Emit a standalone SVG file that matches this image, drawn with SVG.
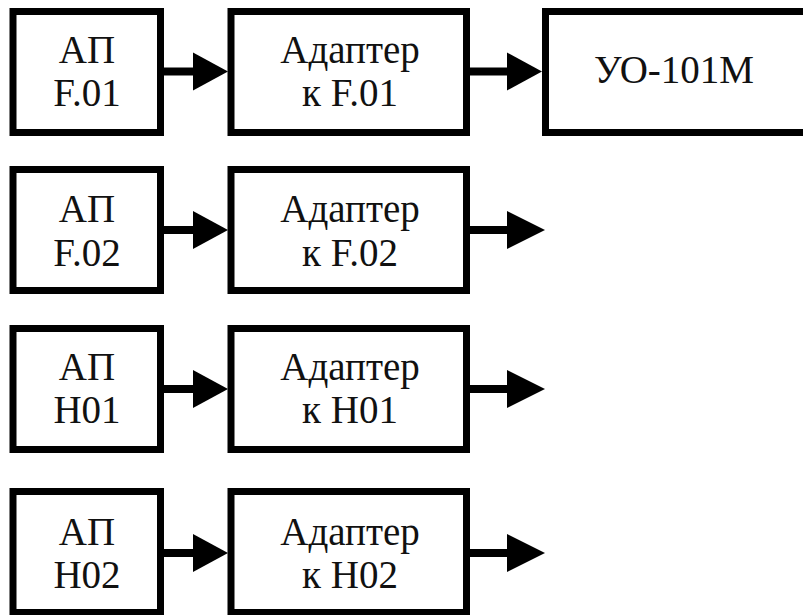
<svg xmlns="http://www.w3.org/2000/svg" width="803" height="615" viewBox="0 0 803 615" font-family="Liberation Serif, DejaVu Serif, serif">
<defs>
<style>
.box{fill:#fff;stroke:#000;stroke-width:7}
.ln{stroke:#000;stroke-width:8;fill:none}
.hd{fill:#000}
</style>
</defs>
<rect width="803" height="615" fill="#fff"/>
<g font-family="Liberation Serif, DejaVu Serif, serif" font-size="39" fill="#111" text-anchor="middle">
<g id="ap-f01"><rect class="box" x="13" y="11.5" width="147.5" height="121"/><text x="87" y="63">АП</text><text x="87" y="106">F.01</text></g>
<g id="adapter-f01"><rect class="box" x="231" y="11.5" width="235.5" height="121"/><text x="350" y="63">Адаптер</text><text x="350" y="106">к F.01</text></g>
<g id="uo-101m"><rect class="box" x="545.5" y="11.5" width="280" height="121"/><text x="674" y="83">УО-101М</text></g>

<g id="ap-f02"><rect class="box" x="13" y="169.5" width="147.5" height="121"/><text x="87" y="221.5">АП</text><text x="87" y="265.5">F.02</text></g>
<g id="adapter-f02"><rect class="box" x="231" y="169.5" width="235.5" height="121"/><text x="350" y="221.5">Адаптер</text><text x="350" y="265.5">к F.02</text></g>

<g id="ap-h01"><rect class="box" x="13" y="328.5" width="147.5" height="121"/><text x="87" y="380">АП</text><text x="87" y="423">H01</text></g>
<g id="adapter-h01"><rect class="box" x="231" y="328.5" width="235.5" height="121"/><text x="350" y="380">Адаптер</text><text x="350" y="423">к H01</text></g>

<g id="ap-h02"><rect class="box" x="13" y="491.5" width="147.5" height="121"/><text x="87" y="545">АП</text><text x="87" y="588">H02</text></g>
<g id="adapter-h02"><rect class="box" x="231" y="491.5" width="235.5" height="121"/><text x="350" y="545">Адаптер</text><text x="350" y="588">к H02</text></g>
</g>
<g id="connectors">
<line class="ln" x1="164" y1="71.5" x2="196" y2="71.5"/><polygon class="hd" points="193,52.5 228,71.5 193,90.5"/>
<line class="ln" x1="470" y1="71.5" x2="510" y2="71.5"/><polygon class="hd" points="507,52.5 542,71.5 507,90.5"/>
<line class="ln" x1="164" y1="230" x2="196" y2="230"/><polygon class="hd" points="193,211 228,230 193,249"/>
<line class="ln" x1="470" y1="230" x2="510" y2="230"/><polygon class="hd" points="507,211 545,230 507,249"/>
<line class="ln" x1="164" y1="389" x2="196" y2="389"/><polygon class="hd" points="193,370 228,389 193,408"/>
<line class="ln" x1="470" y1="389" x2="510" y2="389"/><polygon class="hd" points="507,370 545,389 507,408"/>
<line class="ln" x1="164" y1="553" x2="196" y2="553"/><polygon class="hd" points="193,534 228,553 193,572"/>
<line class="ln" x1="470" y1="553" x2="510" y2="553"/><polygon class="hd" points="507,534 545,553 507,572"/>
</g>
</svg>
